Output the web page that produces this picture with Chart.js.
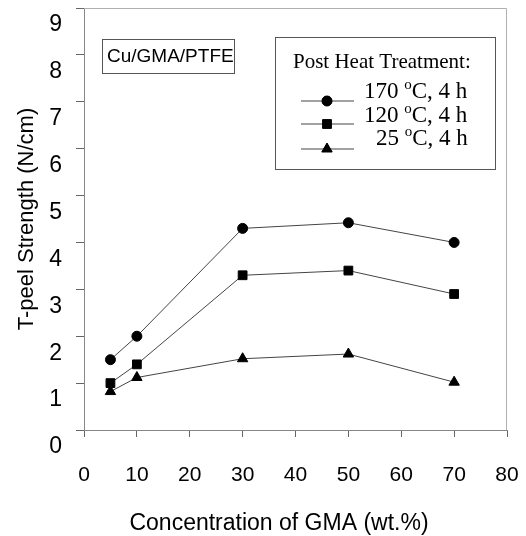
<!DOCTYPE html>
<html>
<head>
<meta charset="utf-8">
<script src="https://cdn.jsdelivr.net/npm/chart.js@4"></script>
<style>
  html, body { margin: 0; padding: 0; background: #fff; }
  #wrap { width: 526px; height: 536px; }
</style>
</head>
<body>
<div id="wrap"><canvas id="myChart" width="526" height="536"></canvas></div>
<script>
// data
const gmaConc = [5, 10, 30, 50, 70];
const peel170 = [1.5, 2.0, 4.3, 4.42, 4.0];
const peel120 = [1.0, 1.4, 3.3, 3.4, 2.9];
const peel25 = [0.82, 1.12, 1.52, 1.62, 1.02];
const seriesTemps = ['170', '120', '25'];
const xTicks = [0, 10, 20, 30, 40, 50, 60, 70, 80];
const yTicks = [0, 1, 2, 3, 4, 5, 6, 7, 8, 9];
const xTitle = 'Concentration of GMA (wt.%)';

const toPoints = (ys) => gmaConc.map((x, i) => ({ x: x, y: ys[i] }));

// frame, x title, text boxes and the legend
const boxPlugin = {
    id: 'boxes',
    beforeDatasetsDraw(chart) {
        const ctx = chart.ctx;
        const a = chart.chartArea;
        ctx.save();
        ctx.strokeStyle = '#b0b0b0';
        ctx.lineWidth = 1;
        ctx.beginPath();
        ctx.moveTo(a.left, a.top + 0.5);
        ctx.lineTo(a.right - 0.5, a.top + 0.5);
        ctx.lineTo(a.right - 0.5, a.bottom);
        ctx.stroke();
        ctx.restore();
    },
    afterDraw(chart) {
        const ctx = chart.ctx;
        ctx.save();
        ctx.fillStyle = '#000';
        ctx.textBaseline = 'middle';

        // x axis title (sits a bit left of the plot centre)
        ctx.textAlign = 'center';
        ctx.font = '23px "Liberation Sans", Arial, sans-serif';
        ctx.fillText(xTitle, 279, 524);

        // sample label box
        ctx.textAlign = 'left';
        ctx.strokeStyle = '#555';
        ctx.lineWidth = 1;
        ctx.strokeRect(102.5, 39.5, 132, 34);
        ctx.font = '19px "Liberation Sans", Arial, sans-serif';
        ctx.fillText('Cu/GMA/PTFE', 107, 57);

        // legend box
        ctx.strokeRect(275.5, 37.5, 220, 132);
        ctx.font = '21px "Liberation Serif", "Times New Roman", serif';
        ctx.fillText('Post Heat Treatment:', 293, 62);
        const textY = [92, 116, 139];
        const markY = [101, 124, 149];
        chart.data.datasets.forEach((ds, i) => {
            const y = markY[i];
            ctx.strokeStyle = '#444';
            ctx.beginPath();
            ctx.moveTo(301, y);
            ctx.lineTo(354, y);
            ctx.stroke();
            ctx.fillStyle = '#000';
            ctx.strokeStyle = '#000';
            Chart.helpers.drawPoint(ctx, {
                pointStyle: ds.pointStyle,
                radius: ds.pointRadius,
                borderWidth: 1
            }, 327, y);
            ctx.fill();
            // label with superscript o
            const temp = seriesTemps[i];
            let x = i === 2 ? 376 : 364;
            ctx.font = '23px "Liberation Serif", "Times New Roman", serif';
            ctx.fillText(temp + ' ', x, textY[i]);
            x += ctx.measureText(temp + ' ').width;
            ctx.font = '15px "Liberation Serif", "Times New Roman", serif';
            ctx.fillText('o', x, textY[i] - 7);
            x += ctx.measureText('o').width;
            ctx.font = '23px "Liberation Serif", "Times New Roman", serif';
            ctx.fillText('C, 4 h', x, textY[i]);
        });
        ctx.restore();
    }
};

const lineColor = '#444';
const ctx = document.getElementById('myChart').getContext('2d');
const chart = new Chart(ctx, {
    type: 'line',
    data: {
        datasets: [{
            label: '170 °C, 4 h',
            data: toPoints(peel170),
            pointStyle: 'circle',
            pointRadius: 5,
            borderColor: lineColor,
            borderWidth: 1,
            pointBackgroundColor: '#000',
            pointBorderColor: '#000'
        }, {
            label: '120 °C, 4 h',
            data: toPoints(peel120),
            pointStyle: 'rect',
            pointRadius: 6.2,
            borderColor: lineColor,
            borderWidth: 1,
            pointBackgroundColor: '#000',
            pointBorderColor: '#000'
        }, {
            label: '25 °C, 4 h',
            data: toPoints(peel25),
            pointStyle: 'triangle',
            pointRadius: 6,
            borderColor: lineColor,
            borderWidth: 1,
            pointBackgroundColor: '#000',
            pointBorderColor: '#000'
        }]
    },
    options: {
        responsive: false,
        animation: false,
        layout: { padding: { top: 8, right: 19, left: 0, bottom: 0 } },
        plugins: {
            legend: { display: false },
            tooltip: { enabled: false }
        },
        scales: {
            x: {
                type: 'linear',
                min: 0,
                max: 80,
                afterBuildTicks: (s) => { s.ticks = xTicks.map(v => ({ value: v })); },
                afterFit: (s) => {
                    s.height = 106;
                    s.paddingLeft = 0;
                    s.paddingRight = 0;
                },
                grid: { drawOnChartArea: false, drawTicks: true, tickLength: 7, color: '#666' },
                border: { color: '#888' },
                ticks: {
                    color: '#000',
                    padding: 26,
                    maxRotation: 0,
                    font: { family: '"Liberation Sans", Arial, sans-serif', size: 21 }
                },
                title: { display: false }
            },
            y: {
                type: 'linear',
                min: 0,
                max: 9,
                afterBuildTicks: (s) => { s.ticks = yTicks.map(v => ({ value: v })); },
                afterFit: (s) => {
                    s.width = 84;
                    s.paddingTop = 0;
                    s.paddingBottom = 0;
                },
                grid: { drawOnChartArea: false, drawTicks: true, tickLength: 8, color: '#666' },
                border: { color: '#888' },
                ticks: {
                    color: '#000',
                    padding: 14,
                    labelOffset: 17,
                    font: { family: '"Liberation Sans", Arial, sans-serif', size: 23 }
                },
                title: {
                    display: true,
                    text: 'T-peel Strength (N/cm)',
                    color: '#000',
                    padding: { top: 14, bottom: 0 },
                    font: { family: '"Liberation Sans", Arial, sans-serif', size: 22 }
                }
            }
        }
    },
    plugins: [boxPlugin]
});
</script>
</body>
</html>
